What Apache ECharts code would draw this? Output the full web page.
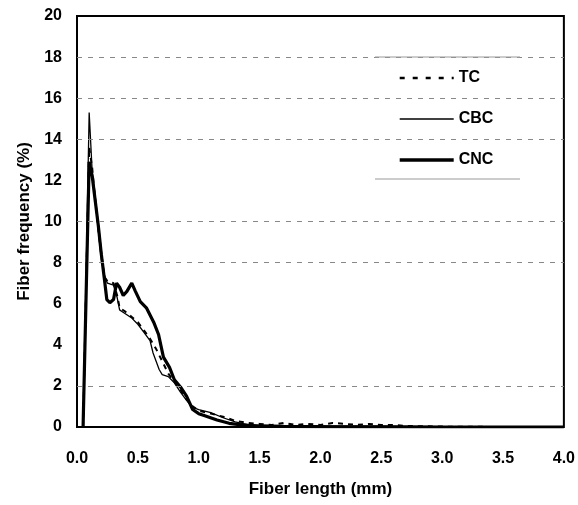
<!DOCTYPE html>
<html>
<head>
<meta charset="utf-8">
<script src="https://cdn.jsdelivr.net/npm/echarts@6/dist/echarts.min.js"></script>
<style>html,body{margin:0;padding:0;background:#fff}#c{width:578px;height:505px}</style>
</head>
<body>
<div id="c"></div>
<script>
var xTicks = [0, 0.5, 1.0, 1.5, 2.0, 2.5, 3.0, 3.5, 4.0];
var yTicks = [0, 2, 4, 6, 8, 10, 12, 14, 16, 18, 20];
var gridValues = [2, 8, 10, 14, 16, 18];
var seriesNames = ['TC', 'CBC', 'CNC'];

var tcX = [0.05,0.1,0.125,0.15,0.175,0.2,0.225,0.25,0.3,0.33,0.35,0.4,0.45,0.5,0.55,0.6,0.65,0.7,0.75,0.8,0.85,0.9,0.95,1.0,1.1,1.2,1.3,1.4,1.5,1.6,1.7,1.8,1.9,2.0,2.1,2.2,2.3,2.4,2.5,2.6,2.7,3.0,3.5,4.0];
var tcY = [0,13.6,12.6,11.0,9.6,8.3,7.3,7.1,7.0,6.4,5.8,5.6,5.35,5.1,4.7,4.3,3.8,3.2,2.6,2.2,1.8,1.35,1.0,0.8,0.65,0.5,0.3,0.2,0.15,0.1,0.2,0.1,0.15,0.1,0.2,0.15,0.1,0.15,0.1,0.1,0.05,0.02,0,0];

var cbcX = [0.05,0.075,0.1,0.125,0.15,0.175,0.2,0.225,0.25,0.3,0.33,0.35,0.375,0.4,0.45,0.5,0.55,0.6,0.625,0.65,0.675,0.7,0.75,0.8,0.85,0.9,0.95,1.0,1.1,1.2,1.3,1.4,1.5,1.7,2.0,2.5,3.0,3.5,4.0];
var cbcY = [0,7.5,15.3,12.4,11.2,9.9,8.6,7.4,7.0,6.9,6.3,5.7,5.6,5.5,5.3,5.0,4.6,4.2,3.6,3.2,2.8,2.55,2.45,2.15,1.7,1.3,0.95,0.85,0.7,0.45,0.25,0.12,0.08,0.05,0.05,0.04,0.02,0.01,0];

var cncX = [0.05,0.1,0.125,0.15,0.175,0.2,0.225,0.245,0.27,0.3,0.325,0.35,0.38,0.41,0.45,0.48,0.52,0.57,0.63,0.67,0.71,0.76,0.8,0.85,0.9,0.95,1.0,1.05,1.15,1.25,1.35,1.5,1.7,2.0,3.0,4.0];
var cncY = [0,12.9,12.2,11.0,9.8,8.4,7.2,6.2,6.05,6.2,7.0,6.8,6.4,6.6,7.0,6.6,6.1,5.8,5.1,4.5,3.4,2.9,2.3,1.95,1.5,0.85,0.65,0.55,0.34,0.18,0.1,0.05,0.03,0.02,0,0];

function pairs(xs, ys) { return xs.map(function (x, i) { return [x, ys[i]]; }); }

var FONT = '"Liberation Sans", Arial, sans-serif';
var chart = echarts.init(document.getElementById('c'));
chart.setOption({
  animation: false,
  backgroundColor: '#fff',
  grid: { left: 77, right: 14, top: 16, bottom: 78, show: true, borderColor: '#000', borderWidth: 2, backgroundColor: 'transparent' },
  xAxis: {
    type: 'value', min: xTicks[0], max: xTicks[xTicks.length - 1], interval: 0.5,
    name: 'Fiber length (mm)', nameLocation: 'middle', nameGap: 54,
    nameTextStyle: { fontFamily: FONT, fontWeight: 'bold', fontSize: 17, color: '#000' },
    axisLine: { show: false }, axisTick: { show: false }, splitLine: { show: false },
    axisLabel: { margin: 24, fontFamily: FONT, fontWeight: 'bold', fontSize: 16, color: '#000',
      formatter: function (v) { return v.toFixed(1); } }
  },
  yAxis: {
    type: 'value', min: yTicks[0], max: yTicks[yTicks.length - 1], interval: 2,
    name: 'Fiber frequency (%)', nameLocation: 'middle', nameGap: 34, nameRotate: 90,
    nameTextStyle: { fontFamily: FONT, fontWeight: 'bold', fontSize: 17, color: '#000' },
    axisLine: { show: false }, axisTick: { show: false }, splitLine: { show: false },
    axisLabel: { margin: 15, fontFamily: FONT, fontWeight: 'bold', fontSize: 16, color: '#000' }
  },
  legend: {
    show: true,
    orient: 'vertical', left: 376, top: 58, padding: [12, 26, 12, 22],
    backgroundColor: '#fff', borderWidth: 0,
    itemWidth: 54, itemHeight: 14, itemGap: 25,
    textStyle: { fontFamily: FONT, fontWeight: 'bold', fontSize: 16, color: '#000' },
    data: [
      { name: seriesNames[0], itemStyle: { opacity: 0 }, lineStyle: { type: [5, 8], width: 2.5, color: '#000' } },
      { name: seriesNames[1], itemStyle: { opacity: 0 }, lineStyle: { width: 1.6, color: '#000' } },
      { name: seriesNames[2], itemStyle: { opacity: 0 }, lineStyle: { width: 3.4, color: '#000' } }
    ]
  },
  graphic: [
    { type: 'line', shape: { x1: 375, y1: 57, x2: 520, y2: 57 }, style: { stroke: '#999', lineWidth: 1 }, z: 100 },
    { type: 'line', shape: { x1: 375, y1: 179, x2: 520, y2: 179 }, style: { stroke: '#999', lineWidth: 1 }, z: 100 }
  ],
  series: [
    { name: 'gridlines', type: 'line', data: [], z: 1, silent: true,
      markLine: { silent: true, symbol: ['none', 'none'], label: { show: false },
        lineStyle: { type: [5, 6], color: '#888', width: 1 },
        data: gridValues.map(function (v) { return { yAxis: v }; }) } },
    { name: seriesNames[0], type: 'line', data: pairs(tcX, tcY), showSymbol: false, symbol: 'none', z: 3,
      lineStyle: { type: [5, 5], width: 2, color: '#000' }, itemStyle: { color: '#000' } },
    { name: seriesNames[1], type: 'line', data: pairs(cbcX, cbcY), showSymbol: false, symbol: 'none', z: 3,
      lineStyle: { width: 1.3, color: '#000' }, itemStyle: { color: '#000' } },
    { name: seriesNames[2], type: 'line', data: pairs(cncX, cncY), showSymbol: false, symbol: 'none', z: 4,
      lineStyle: { width: 3.2, color: '#000' }, itemStyle: { color: '#000' } }
  ]
});
</script>
</body>
</html>
